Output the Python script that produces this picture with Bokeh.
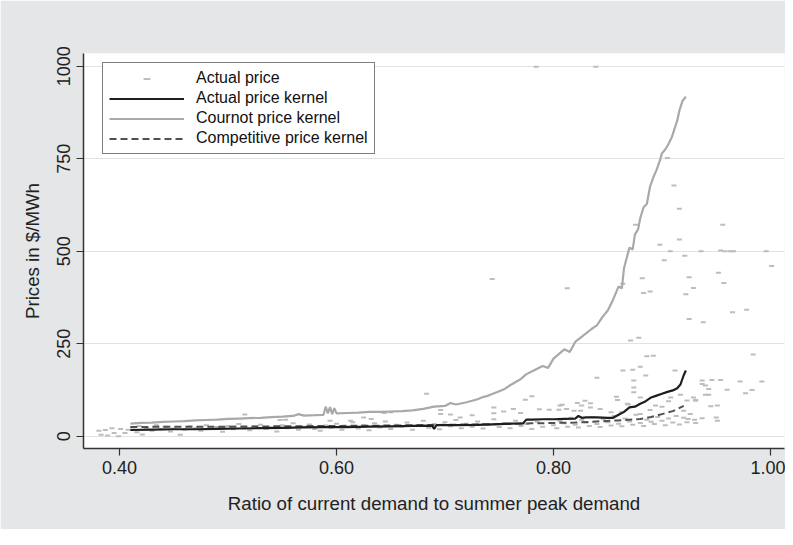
import math
from bokeh.plotting import figure
from bokeh.models import Range1d, FixedTicker, NumeralTickFormatter, Legend, LegendItem
from bokeh.embed import file_html
from bokeh.resources import INLINE

# ---------------- data ----------------
x_ticks = [0.40, 0.60, 0.80, 1.00]
y_ticks = [0, 250, 500, 750, 1000]

cournot_x = [0.41, 0.42, 0.43, 0.44, 0.45, 0.46, 0.47, 0.48, 0.49, 0.50, 0.51, 0.52, 0.53,
             0.54, 0.55, 0.56, 0.565, 0.57, 0.58, 0.588, 0.590, 0.592, 0.594, 0.596, 0.598,
             0.60, 0.61, 0.62, 0.63, 0.64, 0.65, 0.66, 0.67, 0.68, 0.69, 0.70, 0.705, 0.71,
             0.72, 0.73, 0.735, 0.74, 0.75, 0.755, 0.76, 0.77, 0.775, 0.78, 0.79, 0.795, 0.80,
             0.81, 0.815, 0.82, 0.83, 0.835, 0.84, 0.845, 0.85, 0.855, 0.86, 0.863, 0.865,
             0.87, 0.873, 0.875, 0.878, 0.88, 0.883, 0.886, 0.889, 0.892, 0.895, 0.898,
             0.90, 0.903, 0.906, 0.909, 0.911, 0.914, 0.916, 0.919, 0.922]
cournot_y = [34, 36, 37, 39, 40, 41, 43, 44, 45, 47, 48, 49, 50,
             52, 53, 55, 60, 56, 57, 58, 80, 62, 79, 60, 76,
             62, 63, 64, 66, 66, 67, 68, 70, 74, 80, 82, 90, 86,
             92, 100, 106, 110, 122, 128, 138, 155, 168, 175, 190, 185, 210,
             235, 228, 255, 278, 290, 300, 322, 340, 370, 405, 400, 455,
             510, 505, 545, 560, 590, 619, 628, 675, 700, 720, 745,
             765, 775, 790, 808, 826, 853, 880, 907, 918]

actual_kernel_x = [0.41, 0.43, 0.45, 0.47, 0.49, 0.51, 0.53, 0.55, 0.57, 0.59, 0.61, 0.63,
                   0.65, 0.67, 0.688, 0.69, 0.692, 0.71, 0.73, 0.75, 0.76, 0.772, 0.775, 0.78,
                   0.79, 0.80, 0.81, 0.82, 0.823, 0.826, 0.83, 0.84, 0.85, 0.855, 0.86, 0.865,
                   0.87, 0.875, 0.88, 0.885, 0.89, 0.895, 0.90, 0.905, 0.91, 0.914, 0.917,
                   0.92, 0.922]
actual_kernel_y = [17, 18, 19, 19, 20, 21, 22, 23, 24, 25, 25, 26,
                   27, 28, 29, 20, 30, 30, 31, 33, 34, 35, 45, 45,
                   46, 46, 47, 48, 55, 50, 51, 51, 50, 50, 58, 66,
                   78, 80, 88, 95, 105, 110, 115, 120, 124, 130, 140,
                   165, 178]

competitive_x = [0.41, 0.45, 0.50, 0.55, 0.60, 0.65, 0.70, 0.75, 0.78, 0.80, 0.82, 0.84,
                 0.86, 0.87, 0.88, 0.89, 0.90, 0.91, 0.915, 0.92]
competitive_y = [25, 26, 26, 27, 28, 29, 31, 33, 35, 36, 37, 40,
                 43, 45, 47, 52, 60, 68, 75, 82]

price_high_x = [0.784, 0.839, 0.905, 0.911, 0.916, 0.956, 0.916, 0.8126, 0.8756, 0.898, 0.9076,
                0.936, 0.954, 0.958, 0.963, 0.966, 0.996, 1.001, 0.902, 0.921, 0.8818, 0.925,
                0.952, 0.957, 0.929, 0.883, 0.889, 0.922, 0.864, 0.7435, 0.925, 0.938, 0.965,
                0.978, 0.871, 0.8786, 0.886, 0.892, 0.984, 0.864, 0.873, 0.880, 0.840, 0.874,
                0.885, 0.912, 0.937, 0.946, 0.954, 0.940, 0.943, 0.960, 0.972, 0.983, 0.992,
                0.874, 0.977, 0.908, 0.917, 0.929, 0.931, 0.945, 0.951, 0.950, 0.951, 0.937,
                0.683, 0.774, 0.780, 0.829, 0.834, 0.806, 0.812, 0.826, 0.819, 0.858, 0.874,
                0.880, 0.868, 0.696, 0.705, 0.714, 0.745, 0.754, 0.763, 0.787, 0.7696, 0.696,
                0.725, 0.650, 0.644, 0.625, 0.632, 0.613, 0.594, 0.745, 0.5155, 0.548, 0.553,
                0.937, 0.940, 0.943, 0.931, 0.924, 0.920, 0.923, 0.931, 0.906, 0.900, 0.894,
                0.889, 0.880, 0.859, 0.869, 0.8627, 0.853, 0.843, 0.834, 0.825, 0.822, 0.808,
                0.805, 0.796]
price_high_y = [999, 999, 752, 678, 615, 572, 532, 400, 572, 518, 500,
                500, 502, 500, 500, 500, 500, 460, 476, 488, 427, 430,
                442, 414, 401, 387, 391, 384, 412, 425, 317, 308, 335,
                342, 259, 266, 216, 218, 221, 178, 180, 188, 158, 151,
                164, 178, 151, 152, 152, 137, 128, 126, 148, 125, 148,
                132, 116, 105, 112, 105, 96, 81, 83, 51, 42, 49,
                115, 99, 108, 96, 89, 83, 74, 83, 69, 107, 119,
                105, 88, 60, 59, 51, 62, 67, 74, 73, 63, 71,
                57, 65, 63, 51, 47, 42, 42, 78, 59, 44, 45,
                141, 112, 112, 36, 47, 69, 97, 98, 95, 80, 83,
                71, 60, 98, 86, 65, 65, 74, 78, 69, 90, 85,
                72, 72]

price_low_x = [0.381, 0.383, 0.387, 0.389, 0.393, 0.395, 0.399, 0.401, 0.405, 0.408, 0.412,
               0.416, 0.418, 0.421, 0.425, 0.430, 0.434, 0.438, 0.442, 0.447, 0.450, 0.456,
               0.460, 0.465, 0.470, 0.475, 0.480, 0.485, 0.490, 0.495, 0.500, 0.505, 0.510,
               0.515, 0.520, 0.525, 0.530, 0.535, 0.540, 0.545, 0.550, 0.555, 0.560, 0.565,
               0.570, 0.575, 0.580, 0.585, 0.590, 0.595, 0.600, 0.605, 0.610, 0.615, 0.620,
               0.625, 0.630, 0.635, 0.640, 0.645, 0.650, 0.655, 0.660, 0.665, 0.670, 0.675,
               0.680, 0.685, 0.690, 0.695, 0.700, 0.705, 0.710, 0.715, 0.720, 0.725, 0.730,
               0.735, 0.740, 0.745, 0.750, 0.755, 0.760, 0.765, 0.770, 0.775, 0.780, 0.785,
               0.790, 0.795, 0.800, 0.803, 0.806, 0.810, 0.813, 0.816, 0.820, 0.823, 0.826,
               0.830, 0.833, 0.836, 0.840, 0.843, 0.846, 0.850, 0.853, 0.856, 0.860, 0.863,
               0.866, 0.870, 0.873, 0.876, 0.880, 0.883, 0.886, 0.890, 0.893, 0.896, 0.900,
               0.903, 0.906, 0.910, 0.913, 0.916, 0.920, 0.923, 0.926, 0.930]
price_low_y = [15, 4, 17, 2, 22, 9, 0, 20, 9, 18, 24,
               11, 28, 5, 22, 15, 30, 19, 26, 13, 21, 4,
               18, 27, 22, 15, 30, 20, 25, 12, 28, 19, 33,
               22, 16, 27, 31, 20, 24, 13, 30, 22, 35, 18,
               26, 32, 20, 15, 29, 23, 34, 18, 27, 38, 21,
               30, 16, 35, 24, 40, 20, 31, 26, 37, 18, 29,
               42, 23, 33, 19, 38, 27, 44, 22, 34, 26, 40,
               21, 31, 46, 25, 36, 22, 42, 28, 33, 20, 39,
               26, 47, 30, 22, 41, 35, 26, 50, 31, 24, 44,
               37, 28, 52, 33, 25, 46, 38, 29, 55, 34, 27,
               48, 40, 31, 58, 36, 28, 45, 39, 33, 52, 42,
               30, 48, 37, 55, 32, 50, 38, 60, 45]

price_x = price_low_x + price_high_x
price_y = price_low_y + price_high_y

FONT = "Liberation Sans"
BG = "#e5e6e8"

p = figure(width=785, height=529, output_backend="svg", toolbar_location=None,
           x_range=Range1d(0.3668, 1.0129), y_range=Range1d(-33, 1034.6),
           min_border_left=83, min_border_right=1, min_border_top=53, min_border_bottom=81,
           border_fill_color=BG, background_fill_color="white", outline_line_color=None)

r_sc = p.scatter(price_x, price_y, marker="dash", size=5, line_width=2, line_color="#bdbdbd")
r_co = p.line(cournot_x, cournot_y, line_color="#a9a9a9", line_width=2.2)
r_cp = p.line(competitive_x, competitive_y, line_color="#505050", line_width=2, line_dash="7 4")
r_ak = p.line(actual_kernel_x, actual_kernel_y, line_color="#1e1e1e", line_width=2.2)

p.xgrid.visible = False
p.ygrid.grid_line_color = "#e2e2e2"
p.ygrid.grid_line_width = 1

p.xaxis.ticker = FixedTicker(ticks=x_ticks)
p.xaxis.formatter = NumeralTickFormatter(format="0.00")
p.yaxis.ticker = FixedTicker(ticks=y_ticks)
p.yaxis.major_label_orientation = "vertical"

for ax in (p.xaxis, p.yaxis):
    ax.minor_tick_line_color = None
    ax.major_tick_out = 7
    ax.major_tick_in = 0
    ax.axis_line_color = "#333333"
    ax.axis_line_width = 1.5
    ax.major_tick_line_color = "#333333"
    ax.major_tick_line_width = 1.2
    ax.major_label_text_font = FONT
    ax.major_label_text_font_size = "18px"
    ax.major_label_text_color = "#222222"
    ax.axis_label_text_font = FONT
    ax.axis_label_text_font_size = "18.7px"
    ax.axis_label_text_font_style = "normal"
    ax.axis_label_text_color = "#222222"

p.xaxis.axis_label = "Ratio of current demand to summer peak demand"
p.yaxis.axis_label = "Prices in $/MWh"
p.xaxis.major_label_standoff = 5
p.xaxis.axis_label_standoff = 16
p.yaxis.major_label_standoff = 6
p.yaxis.axis_label_standoff = 12

legend = Legend(items=[
    LegendItem(label="Actual price", renderers=[r_sc]),
    LegendItem(label="Actual price kernel", renderers=[r_ak]),
    LegendItem(label="Cournot price kernel", renderers=[r_co]),
    LegendItem(label="Competitive price kernel", renderers=[r_cp]),
], location=(19, 294))
legend.border_line_color = "black"
legend.border_line_width = 1
legend.background_fill_color = "white"
legend.background_fill_alpha = 1
legend.label_text_font = FONT
legend.label_text_font_size = "16px"
legend.label_text_color = "#111111"
legend.glyph_width = 75
legend.glyph_height = 17
legend.label_height = 17
legend.spacing = 2
legend.padding = 6
legend.margin = 0
legend.label_standoff = 12
p.add_layout(legend)

open("out.html", "w").write(file_html(p, INLINE))
